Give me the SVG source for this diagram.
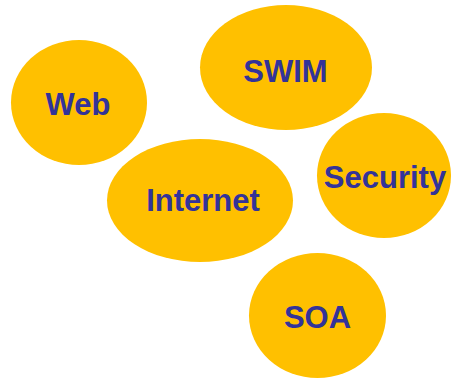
<svg xmlns="http://www.w3.org/2000/svg" width="451" height="379" viewBox="0 0 451 379">
<style>
.b{fill:#FFC000;}
.t{font-family:"Liberation Sans",Arial,sans-serif;font-weight:bold;font-size:31px;fill:#333399;text-anchor:middle;}
</style>
<rect width="451" height="379" fill="#FFFFFF"/>
<g id="connectors"></g>
<g id="web"><ellipse class="b" cx="79" cy="102.5" rx="68" ry="62.5"/><text class="t" x="78" y="115">Web</text></g>
<g id="swim"><ellipse class="b" cx="286" cy="67.5" rx="86" ry="62.5"/><text class="t" x="285.5" y="82">SWIM</text></g>
<g id="internet"><ellipse class="b" cx="200" cy="200.5" rx="93" ry="61.5"/><text class="t" x="203" y="211">Internet</text></g>
<g id="security"><ellipse class="b" cx="384" cy="175.5" rx="67" ry="62.5"/><text class="t" x="385" y="188">Security</text></g>
<g id="soa"><ellipse class="b" cx="317.5" cy="315.5" rx="68.5" ry="62.5"/><text class="t" x="317.5" y="328">SOA</text></g>
</svg>
